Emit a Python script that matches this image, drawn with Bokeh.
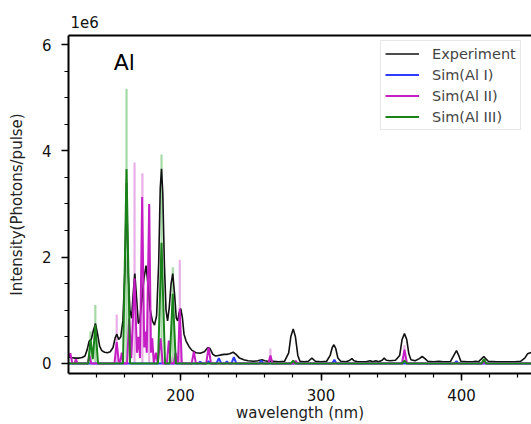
from bokeh.plotting import figure
from bokeh.models import (Range1d, FixedTicker, Legend, LegendItem, LinearAxis,
                          Label, ColumnDataSource)
from bokeh.embed import file_html
from bokeh.resources import INLINE

# ---------------- data (intensity in units of 1e6 photons/pulse) ----------------
exp_nm = [
    120, 122, 125, 128, 130, 132, 133.5, 135, 136.5, 138,
    139.5, 141, 142.5, 144, 146, 148, 150, 152, 153.5, 154.7,
    156, 157.5, 159, 160.5, 161.6, 162.8, 164, 165.2, 166.3, 167.5,
    168.7, 170, 171, 172.5, 174, 175.5, 176.8, 178.5, 180, 181.5,
    183, 184.5, 185.6, 186.5, 187.4, 188.5, 189.7, 190.8, 192, 193.3,
    194.5, 195.8, 197, 198, 199, 200.2, 201.4, 202.5, 204, 206,
    208, 211, 214, 217, 219.5, 221, 223, 225, 227, 229,
    231, 233, 235, 237.5, 239.5, 242, 245, 248, 252, 255,
    258, 260, 262, 266, 270, 274, 277, 278.5, 280.2, 281.8,
    283.5, 285, 288, 291, 293.5, 296, 300, 304, 306.5, 308,
    309.2, 310.5, 312, 314, 318, 320.5, 322, 323.5, 326, 332,
    335, 337, 339, 341, 343.5, 345, 346.5, 349, 353, 356,
    357.7, 359.4, 361, 362.5, 364, 367, 370, 372, 374, 376,
    380, 384, 387, 392, 394.5, 396.4, 398, 399.5, 404, 408,
    410, 412, 414, 415.9, 417.5, 419, 425, 432, 438, 442,
    445, 447, 449, 452]
exp_int = [
    0.12, 0.11, 0.10, 0.10, 0.11, 0.14, 0.25, 0.42, 0.45, 0.62,
    0.75, 0.55, 0.32, 0.24, 0.21, 0.20, 0.22, 0.30, 0.48, 0.55,
    0.45, 0.50, 0.80, 1.80, 3.40, 1.70, 1.00, 0.85, 1.30, 1.69,
    1.25, 0.75, 0.80, 1.20, 1.60, 1.84, 1.50, 1.00, 0.80, 0.72,
    0.90, 1.90, 3.30, 3.66, 3.20, 1.90, 1.00, 0.80, 1.05, 1.50,
    1.69, 1.30, 0.85, 0.80, 0.95, 1.03, 0.85, 0.55, 0.42, 0.32,
    0.25, 0.20, 0.19, 0.22, 0.30, 0.28, 0.17, 0.14, 0.15, 0.16,
    0.17, 0.17, 0.18, 0.21, 0.17, 0.10, 0.07, 0.05, 0.04, 0.05,
    0.07, 0.05, 0.04, 0.04, 0.03, 0.04, 0.20, 0.50, 0.65, 0.50,
    0.15, 0.04, 0.03, 0.04, 0.10, 0.04, 0.03, 0.04, 0.15, 0.30,
    0.35, 0.28, 0.10, 0.04, 0.03, 0.06, 0.09, 0.05, 0.03, 0.03,
    0.05, 0.03, 0.05, 0.03, 0.06, 0.10, 0.06, 0.05, 0.06, 0.15,
    0.45, 0.56, 0.45, 0.18, 0.07, 0.05, 0.09, 0.13, 0.09, 0.04,
    0.03, 0.04, 0.03, 0.03, 0.15, 0.24, 0.15, 0.04, 0.03, 0.03,
    0.04, 0.03, 0.08, 0.13, 0.08, 0.04, 0.03, 0.03, 0.03, 0.04,
    0.10, 0.18, 0.20, 0.22]

# Sim(Al I) – blue
al1_nm = [120, 212.5, 214, 215.5, 218.5, 220, 221.5, 225.6, 227.3, 229,
          231.7, 233, 234.3, 236.3, 238, 239.7, 256, 257.5, 259, 308,
          309.5, 311, 395, 396.4, 397.8, 452]
al1_int = [0, 0, 0.03, 0, 0, 0.04, 0, 0, 0.10, 0,
           0, 0.04, 0, 0, 0.12, 0, 0, 0.05, 0, 0,
           0.07, 0, 0, 0.04, 0, 0]

# Sim(Al II) – magenta
al2_nm = [120, 121.6, 123.0, 124.6, 125.6, 126.6, 133.9, 135.2, 136.5, 153.0,
          154.6, 156.2, 157.0, 158.2, 159.4, 162.0, 163.5, 165.0, 167.3, 169.0,
          170.2, 171.2, 172.7, 174.2, 175.0, 176.0, 177.7, 179.0, 179.9, 181.0,
          182.5, 183.8, 185.8, 187.3, 190.3, 191.7, 193.1, 195.3, 196.5, 197.7,
          198.2, 199.5, 200.9, 208.0, 209.5, 211.0, 218.3, 220.0, 221.7, 262.5,
          264.0, 265.5, 280.8, 282.0, 283.2, 357.6, 359.4, 361.2, 414.8, 416.0,
          417.2, 452]
al2_int = [0.10, 0.19, 0, 0, 0.08, 0, 0, 0.15, 0, 0,
           0.40, 0, 0, 0.20, 0, 0, 0.85, 0.10, 1.60, 0.20,
           0.50, 0.10, 3.13, 0.30, 0.60, 0.20, 3.00, 0.20, 0.47, 0,
           0.20, 0, 0.47, 0, 0, 0.43, 0, 0, 0.20, 0,
           0, 1.03, 0, 0, 0.22, 0, 0, 0.30, 0, 0,
           0.15, 0, 0, 0.05, 0, 0, 0.26, 0, 0, 0.04,
           0, 0]

# Sim(Al III) – green
al3_nm = [120, 134.3, 136.0, 137.6, 139.4, 141.3, 159.1, 161.6, 164.1, 184.0,
          186.5, 189.0, 192.3, 194.5, 196.7, 278.6, 280.2, 281.8, 357.8, 359.4,
          361.0, 414.2, 415.9, 417.6, 452]
al3_int = [0, 0, 0.45, 0.08, 0.72, 0, 0, 3.66, 0, 0,
           2.27, 0, 0, 1.31, 0, 0, 0.05, 0, 0, 0.05,
           0, 0, 0.08, 0, 0]

# unconvolved line sticks
al2_stick_nm = [154.6, 167.3, 172.9, 177.7, 199.5, 264.0, 359.4]
al2_stick_int = [0.92, 3.78, 3.58, 3.00, 1.95, 0.28, 0.34]
al3_stick_nm = [136.0, 139.4, 161.6, 186.5, 194.5]
al3_stick_int = [0.60, 1.10, 5.17, 3.93, 1.81]

x_ticks = [200, 300, 400]
y_ticks = [0, 2, 4, 6]

FONT = "DejaVu Sans"
BLACK = "#111111"
BLUE = "#2f3cff"
MAG = "#c41ec4"
GREEN = "#1a821a"

p = figure(width=531, height=424, output_backend="svg", toolbar_location=None,
           x_range=Range1d(120.3, 449.8), y_range=Range1d(-0.19, 6.17),
           min_border_left=68, min_border_right=0, min_border_top=35,
           min_border_bottom=51)
p.outline_line_color = None
p.xgrid.visible = False
p.ygrid.visible = False
p.background_fill_color = "white"

# title used as the matplotlib-style offset text
p.title.text = "1e6"
p.title.align = "left"
p.title.offset = 2
p.title.standoff = 15
p.title.text_font = FONT
p.title.text_font_size = "15px"
p.title.text_font_style = "normal"
p.title.text_color = "#111111"

# sticks
s2 = ColumnDataSource(dict(x=al2_stick_nm, y=al2_stick_int))
s3 = ColumnDataSource(dict(x=al3_stick_nm, y=al3_stick_int))
p.segment(x0="x", y0=0, x1="x", y1="y", source=s2, line_color="#e39be3",
          line_width=2.2, line_alpha=0.8)
p.segment(x0="x", y0=0, x1="x", y1="y", source=s3, line_color="#8fd08f",
          line_width=2.2, line_alpha=0.8)

r_exp = p.line(exp_nm, exp_int, line_color=BLACK, line_width=1.6)
r1 = p.line(al1_nm, al1_int, line_color=BLUE, line_width=2)
r2 = p.line(al2_nm, al2_int, line_color=MAG, line_width=2)
r3 = p.line(al3_nm, al3_int, line_color=GREEN, line_width=2)

# axes
p.xaxis.ticker = FixedTicker(ticks=x_ticks, minor_ticks=list(range(120, 460, 20)))
p.yaxis.ticker = FixedTicker(ticks=y_ticks,
                             minor_ticks=[i * 0.5 for i in range(0, 13)])
for ax in (p.xaxis[0], p.yaxis[0]):
    ax.axis_line_width = 2
    ax.axis_line_color = "black"
    ax.major_tick_out = 7
    ax.major_tick_in = 0
    ax.minor_tick_out = 4
    ax.minor_tick_in = 0
    ax.major_tick_line_width = 1.5
    ax.minor_tick_line_width = 1.2
    ax.major_label_text_font = FONT
    ax.major_label_text_font_size = "15px"
    ax.major_label_text_color = "#111111"
    ax.axis_label_text_font = FONT
    ax.axis_label_text_font_size = "15px"
    ax.axis_label_text_font_style = "normal"
    ax.axis_label_text_color = "#222222"
p.xaxis.axis_label = "wavelength (nm)"
p.yaxis.axis_label = "Intensity(Photons/pulse)"
p.xaxis.major_label_standoff = 8
p.xaxis.axis_label_standoff = 0
p.yaxis.major_label_standoff = 10
p.yaxis.axis_label_standoff = 13

top = LinearAxis(ticker=FixedTicker(ticks=[]), axis_line_width=2,
                 axis_line_color="black", major_tick_out=0, minor_tick_out=0,
                 major_label_text_font_size="0px")
p.add_layout(top, "above")

p.add_layout(Label(x=152.5, y=5.66, text="Al", text_font=FONT,
                   text_font_size="22px", text_baseline="middle",
                   text_color="black"))

legend = Legend(items=[LegendItem(label="Experiment", renderers=[r_exp]),
                       LegendItem(label="Sim(Al I)", renderers=[r1]),
                       LegendItem(label="Sim(Al II)", renderers=[r2]),
                       LegendItem(label="Sim(Al III)", renderers=[r3])],
                location=(312, 243), label_text_font=FONT,
                label_text_font_size="14.5px", label_height=17, glyph_height=17,
                glyph_width=34, spacing=4, padding=4, label_standoff=13,
                border_line_color="#d0d0d0", border_line_width=1,
                background_fill_alpha=0.9)
p.add_layout(legend)

open("out.html", "w").write(file_html(p, INLINE))
